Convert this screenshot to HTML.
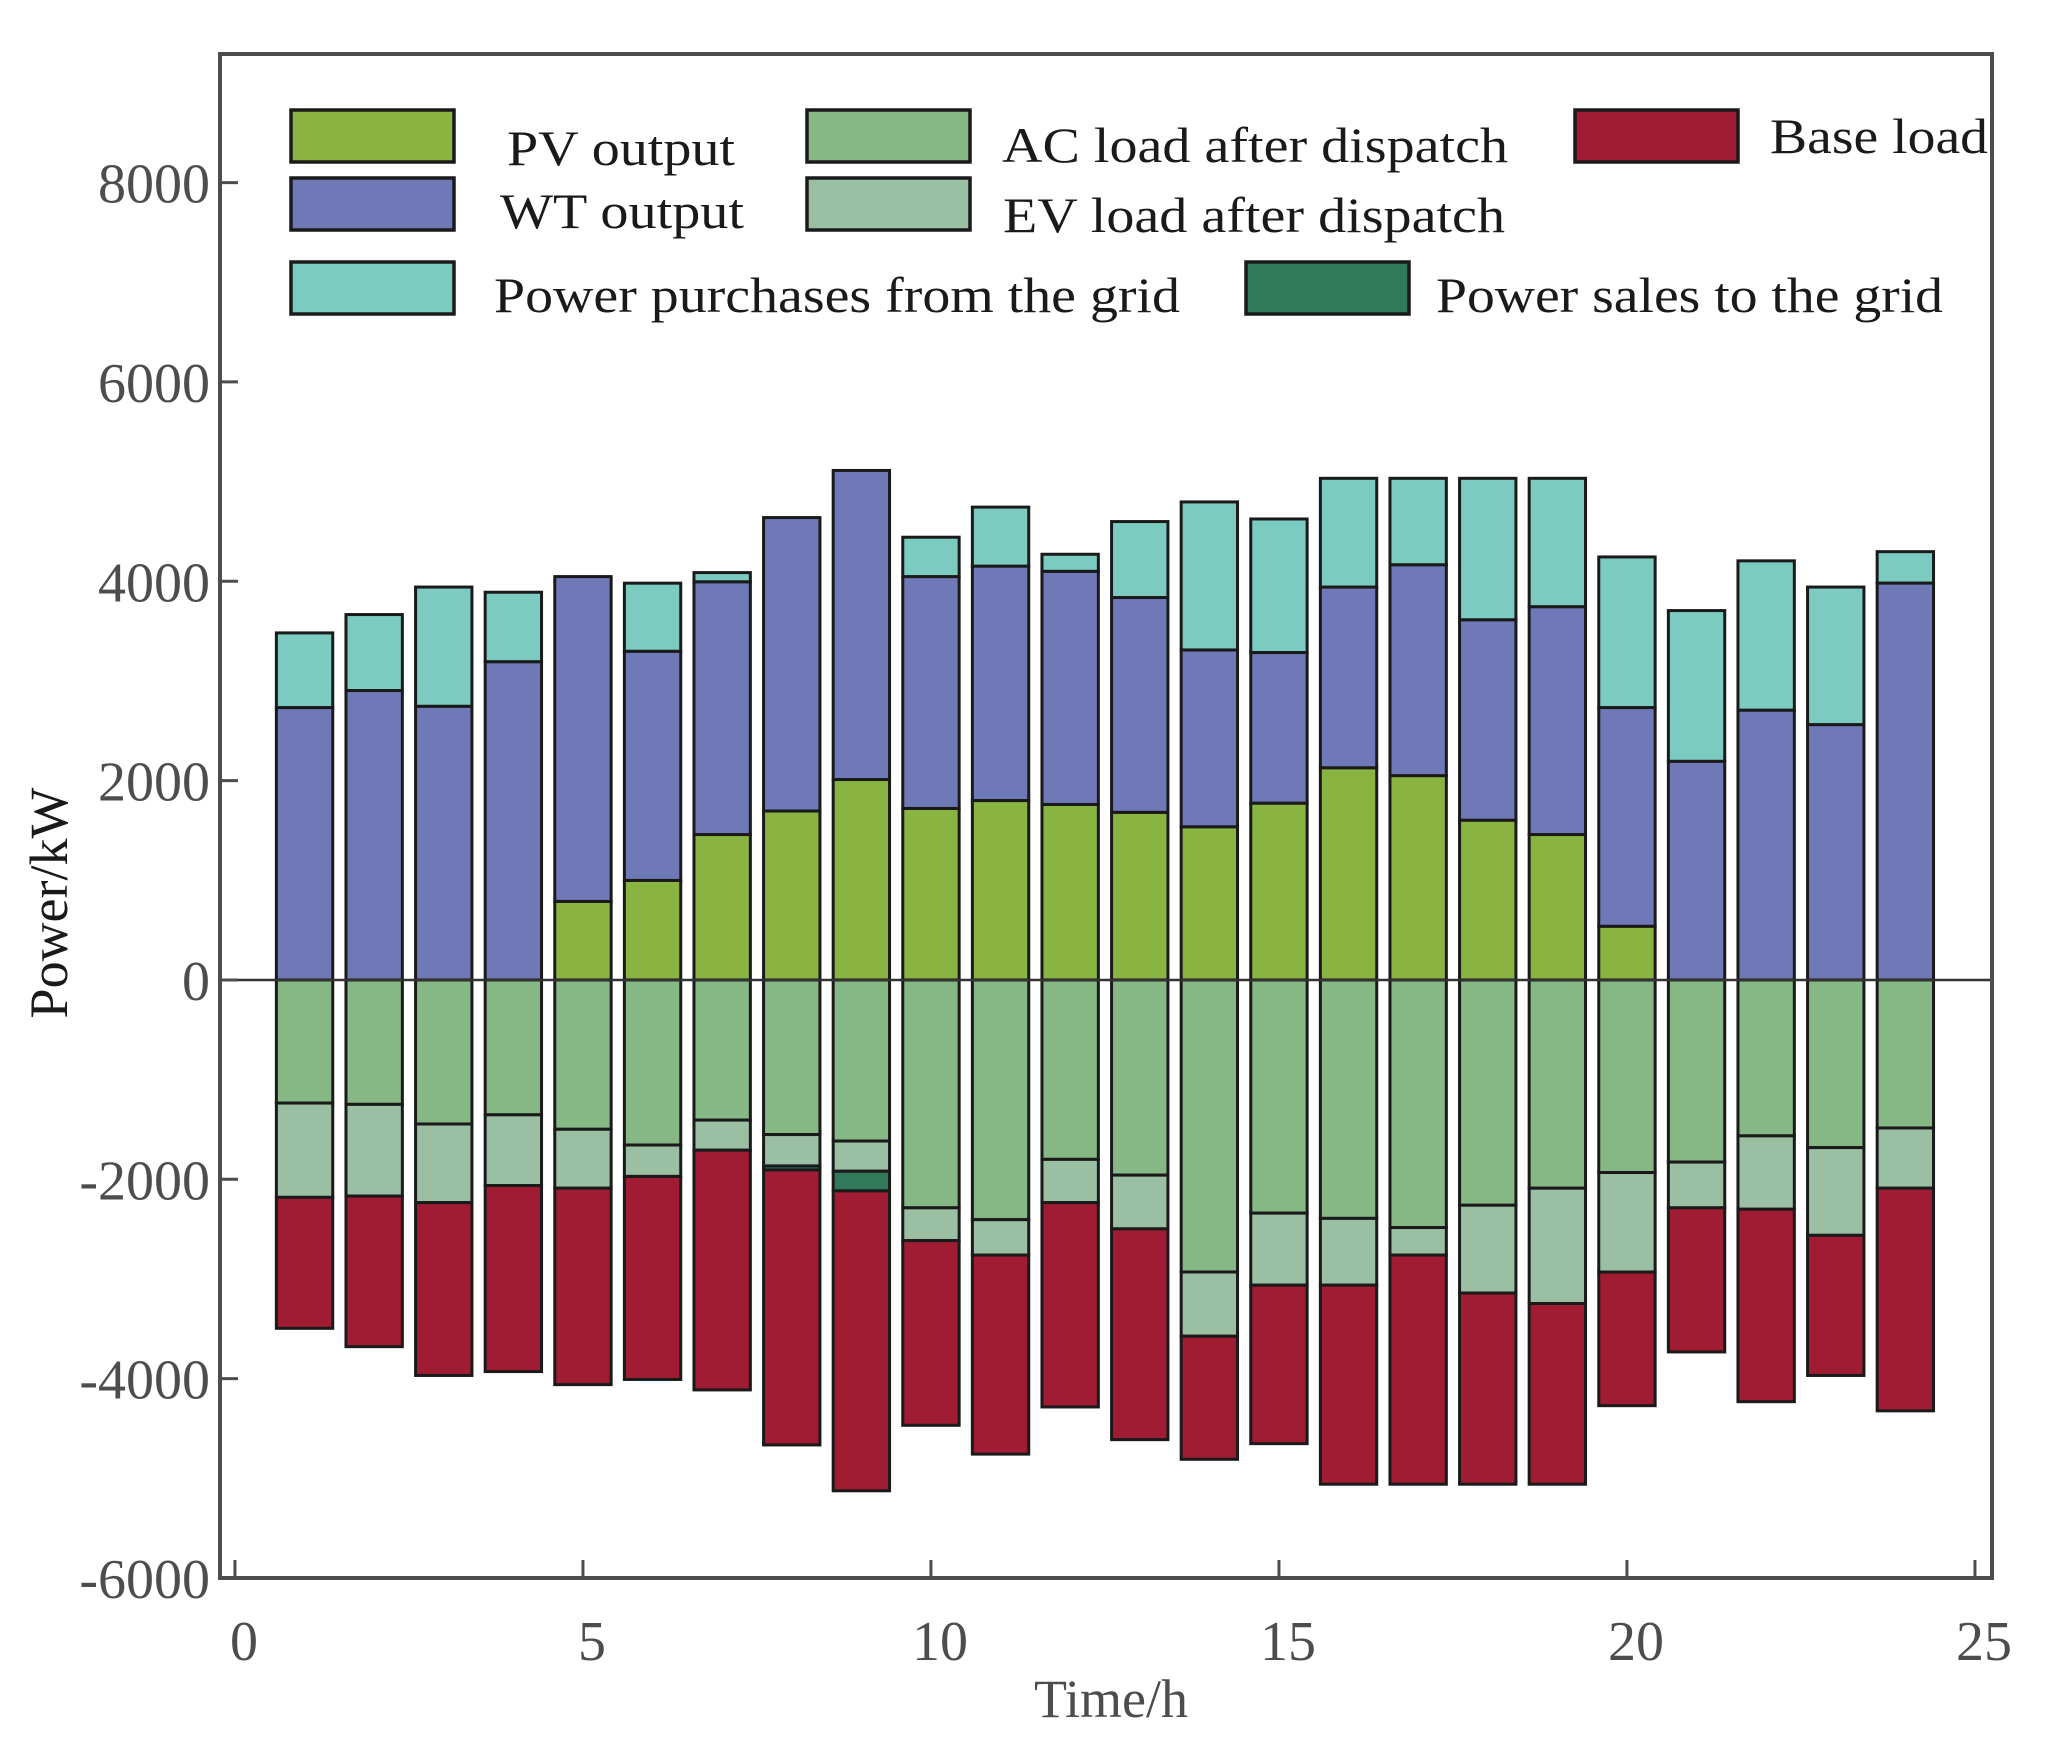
<!DOCTYPE html>
<html><head><meta charset="utf-8"><style>
html,body{margin:0;padding:0;background:#fff;}
svg{display:block;font-family:"Liberation Serif",serif;}
</style></head><body>
<svg id="chart" width="2051" height="1757" viewBox="0 0 2051 1757"></svg>
<script>
const hours=[1,2,3,4,5,6,7,8,9,10,11,12,13,14,15,16,17,18,19,20,21,22,23,24];
const pvOutput=[0,0,0,0,788,999,1459,1695,2011,1721,1800,1761,1682,1537,1774,2129,2050,1603,1459,539,0,0,0,0];
const wtOutput=[2733,2904,2746,3193,3259,2299,2536,2944,3101,2326,2352,2339,2155,1774,1511,1813,2116,2011,2286,2194,2194,2707,2562,3982];
const gridPurchase=[749,762,1196,697,0,683,92,0,0,395,592,171,762,1485,1340,1091,867,1419,1288,1511,1512,1498,1380,315];
const acLoad=[1235,1248,1445,1353,1498,1656,1406,1551,1616,2286,2405,1800,1958,2930,2339,2392,2484,2260,2089,1932,1827,1564,1682,1485];
const evLoad=[946,920,789,710,591,315,302,315,303,329,355,434,539,644,723,670,276,881,1157,998,459,736,880,604];
const gridSale=[0,0,0,0,0,0,0,40,197,0,0,0,0,0,0,0,0,0,0,0,0,0,0,0];
const baseLoad=[1314,1511,1734,1866,1971,2037,2405,2759,3009,1853,1997,2050,2115,1235,1590,1997,2299,1918,1813,1341,1446,1931,1406,2234];
const yTicks=[-6000,-4000,-2000,0,2000,4000,6000,8000];
const xTicks=[0,5,10,15,20,25];

const L=220,R=1992,T=54,B=1578;
const xMin=-0.215,xMax=25.245,yMin=-6000,yMax=9290;
const X=v=>L+(v-xMin)/(xMax-xMin)*(R-L);
const Y=v=>B-(v-yMin)/(yMax-yMin)*(B-T);
const svg=document.getElementById('chart');
const NS='http://www.w3.org/2000/svg';
function mk(tag,attrs,parent){const e=document.createElementNS(NS,tag);for(const k in attrs)e.setAttribute(k,attrs[k]);(parent||svg).appendChild(e);return e;}

const barsG=mk('g',{});


const bw=0.81;
const colors={pv:'#8ab441',wt:'#6f79b8',buy:'#7ccbc0',ac:'#86b885',ev:'#9bbfa3',sell:'#32785a',base:'#a01c32'};
function seg(h,v0,v1,color,name){
  if(Math.abs(v1-v0)<1)return;
  const r=mk('rect',{x:X(h-bw/2),y:Y(Math.max(v0,v1)),width:X(h+bw/2)-X(h-bw/2),height:Math.abs(Y(v0)-Y(v1)),fill:color,stroke:'#1a1a1a','stroke-width':3},barsG);
  
  
}
hours.forEach((h,i)=>{
  let p=0;
  seg(h,p,p+pvOutput[i],colors.pv,'pv');p+=pvOutput[i];
  seg(h,p,p+wtOutput[i],colors.wt,'wt');p+=wtOutput[i];
  seg(h,p,p+gridPurchase[i],colors.buy,'purchase');
  let n=0;
  seg(h,n,n-acLoad[i],colors.ac,'ac-load');n-=acLoad[i];
  seg(h,n,n-evLoad[i],colors.ev,'ev-load');n-=evLoad[i];
  seg(h,n,n-gridSale[i],colors.sell,'sale');n-=gridSale[i];
  seg(h,n,n-baseLoad[i],colors.base,'base-load');
});
const zl=mk('line',{x1:L,x2:R,y1:Y(0),y2:Y(0),stroke:'#333','stroke-width':2.5});



const frame=mk('rect',{x:L,y:T,width:R-L,height:B-T,fill:'none',stroke:'#4d4d4d','stroke-width':4});



yTicks.forEach(v=>{
  const t=mk('line',{x1:L,x2:L+18,y1:Y(v),y2:Y(v),stroke:'#4d4d4d','stroke-width':3});
  
  
  const tx=mk('text',{x:210,y:Y(v)+20,'text-anchor':'end','font-size':56,fill:'#4d4d4d'});
  tx.textContent=v;
  
  
});
xTicks.forEach(v=>{
  const t=mk('line',{x1:X(v),x2:X(v),y1:B,y2:B-18,stroke:'#4d4d4d','stroke-width':3});
  
  
  const tx=mk('text',{x:X(v)+9,y:1660,'text-anchor':'middle','font-size':56,fill:'#4d4d4d'});
  tx.textContent=v;
  
  
});
const xt=mk('text',{x:1111,y:1717,'text-anchor':'middle','font-size':54,fill:'#4d4d4d'});
xt.textContent='Time/h';


const yt=mk('text',{x:0,y:0,'text-anchor':'middle','font-size':54,fill:'#1a1a1a',transform:'translate(67,903) rotate(-90)'});
yt.textContent='Power/kW';



const legend=[
  {x:291,y:110,c:colors.pv,t:'PV output',tx:507,ty:165,tw:228},
  {x:291,y:178,c:colors.wt,t:'WT output',tx:500,ty:228,tw:244},
  {x:291,y:262,c:colors.buy,t:'Power purchases from the grid',tx:494,ty:312,tw:686},
  {x:807,y:110,c:colors.ac,t:'AC load after dispatch',tx:1002,ty:162,tw:506},
  {x:807,y:178,c:colors.ev,t:'EV load after dispatch',tx:1003,ty:232,tw:502},
  {x:1246,y:262,c:colors.sell,t:'Power sales to the grid',tx:1436,ty:312,tw:507},
  {x:1575,y:110,c:colors.base,t:'Base load',tx:1770,ty:153,tw:218}
];
const lg=mk('g',{});


legend.forEach(e=>{
  const g=mk('g',{},lg);
  
  
  mk('rect',{x:e.x,y:e.y,width:163,height:52,fill:e.c,stroke:'#1a1a1a','stroke-width':3.5},g);
  const t=mk('text',{x:e.tx,y:e.ty,'font-size':50,fill:'#1a1a1a',textLength:e.tw,lengthAdjust:'spacingAndGlyphs'},g);
  t.textContent=e.t;
});
</script>
</body></html>
